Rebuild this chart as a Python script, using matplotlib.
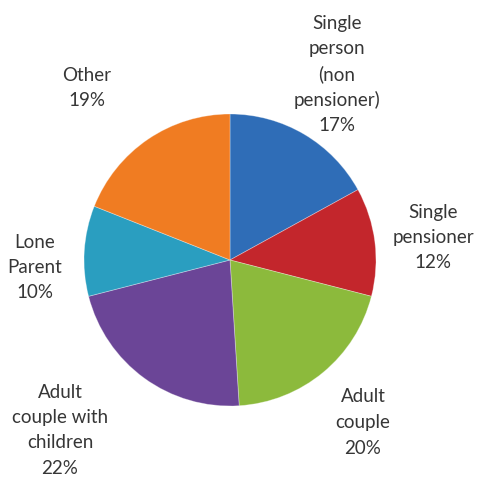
import matplotlib
matplotlib.use("Agg")
import matplotlib.pyplot as plt

# Household types and their share (%)
categories = [
    "Single\nperson\n(non\npensioner)",
    "Single\npensioner",
    "Adult\ncouple",
    "Adult\ncouple with\nchildren",
    "Lone\nParent",
    "Other",
]
shares = [17, 12, 20, 22, 10, 19]
colors = ["#2f6db7", "#c3262c", "#8cba3c", "#6b4597", "#2a9ec0", "#f07c22"]

# label anchor (pixel x, pixel y of first line, top-down)
label_pos = [(337, 23), (433, 212), (363, 397), (60, 392), (35, 242), (87, 75)]

W, H = 479, 478
fig = plt.figure(figsize=(W / 100, H / 100), dpi=100)
ax = fig.add_axes([0, 0, 1, 1])

ax.pie(
    shares,
    colors=colors,
    startangle=90,
    counterclock=False,
    center=(230, H - 260),
    radius=146,
    wedgeprops=dict(edgecolor=(1, 1, 1, 0.35), linewidth=0.6),
)

line_h = 25.5
for cat, val, (x, y) in zip(categories, shares, label_pos):
    lines = cat.split("\n") + [f"{val}%"]
    for i, line in enumerate(lines):
        ax.text(
            x, H - (y + i * line_h), line,
            ha="center", va="center",
            fontsize=13.5, family="Lato", color="#363636",
        )

ax.set_xlim(0, W)
ax.set_ylim(0, H)
ax.set_aspect("equal")
ax.axis("off")

fig.savefig("out.png", dpi=100)
